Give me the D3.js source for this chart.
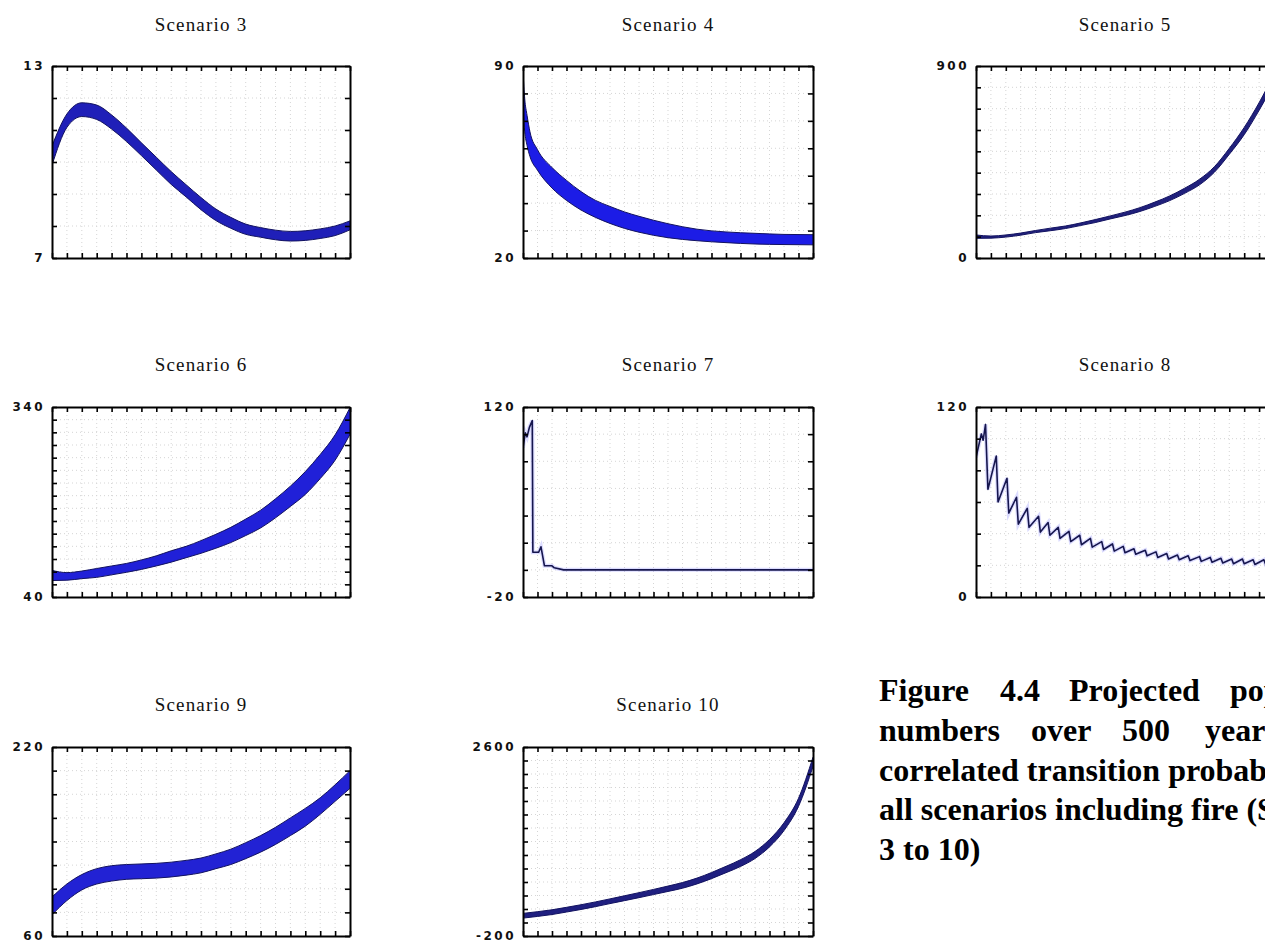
<!DOCTYPE html>
<html>
<head>
<meta charset="utf-8">
<script src="https://cdn.jsdelivr.net/npm/d3@7"></script>
<style>
  body { margin: 0; background: #fff; }
  svg { display: block; }
</style>
</head>
<body>
<svg id="fig" width="1265" height="948"></svg>
<script>
// ---- Data: projected numbers over 500 years, one small set per scenario ----
const scenarioTitles = ["Scenario 3", "Scenario 4", "Scenario 5", "Scenario 6",
                        "Scenario 7", "Scenario 8", "Scenario 9", "Scenario 10"];
const yMins  = [7, 20, 0, 40, -20, 0, 60, -200];
const yMaxs  = [13, 90, 900, 340, 120, 120, 220, 2600];
const ySteps = [1, 10, 100, 20, 20, 20, 20, 200];
const xTickYears = [0, 25, 50, 75, 100, 125, 150, 175, 200, 225, 250,
                    275, 300, 325, 350, 375, 400, 425, 450, 475, 500];

// sampling years shared by most envelope series
const years = [0, 25, 50, 75, 100, 125, 150, 175, 200, 225, 250,
               275, 300, 325, 350, 375, 400, 425, 450, 475, 500];

// Scenario 3: upper / lower edge of the oscillating band
const s3Upper = [10.5, 11.5, 11.85, 11.78, 11.47, 11.06, 10.6, 10.15, 9.7, 9.29, 8.89,
                 8.53, 8.27, 8.06, 7.95, 7.87, 7.83, 7.85, 7.91, 8.0, 8.16];
const s3Lower = [9.9, 11.08, 11.42, 11.33, 11.03, 10.64, 10.2, 9.75, 9.3, 8.91, 8.51,
                 8.17, 7.93, 7.74, 7.65, 7.57, 7.53, 7.55, 7.61, 7.7, 7.88];

// Scenario 4 (finer sampling at the start where it falls quickly)
const s4Years = [0, 3, 7, 12, 25, 50, 75, 100, 125, 150, 175, 200, 250, 300, 350, 400, 450, 500];
const s4Upper = [88, 78, 72, 66, 59.5, 53, 48.3, 44.2, 41, 38.8, 36.8, 35.2, 32.5, 30.5, 29.5, 29, 28.6, 28.5];
const s4Lower = [74, 66, 61, 57, 52, 45.5, 41, 37.5, 34.8, 32.6, 30.8, 29.4, 27.4, 26.3, 25.6, 25.1, 24.9, 24.8];

// Scenario 5
const s5Upper = [108, 103, 108, 117, 129, 140, 150, 164, 180, 197, 215,
                 236, 262, 291, 327, 369, 428, 514, 612, 728, 862];
const s5Lower = [92, 93, 98, 107, 119, 128, 138, 152, 166, 183, 199,
                 218, 242, 269, 303, 343, 402, 486, 578, 692, 818];

// Scenario 6
const s6Upper = [82, 78.5, 81, 85, 89, 93, 98.5, 105, 113, 120, 129,
                 139, 150, 163, 177, 195, 215, 238, 265, 296, 339];
const s6Lower = [66, 66.5, 69, 71, 75, 79, 83.5, 89, 95, 102, 109,
                 117, 126, 137, 149, 165, 183, 202, 227, 256, 297];

// Scenario 7: single trajectory, collapses after the first fire
const s7Years  = [0, 4, 7, 11, 16, 17, 27, 31, 37, 50, 54, 70, 500];
const s7Values = [90, 101, 98, 105, 110, 13, 13, 17, 3, 3, 1.5, 0, 0];

// Scenario 8: saw-tooth trajectory (growth, then sharp drop at each fire)
const s8Years  = [0, 9, 12, 16, 20, 34, 37, 52, 55, 68, 71, 86, 89, 105, 108, 121, 124,
                  138, 141, 156, 159, 174, 177, 192, 195, 211, 214, 229, 232, 247, 250,
                  265, 268, 284, 287, 302, 305, 320, 323, 338, 341, 356, 359, 375, 378,
                  393, 396, 411, 414, 429, 432, 447, 450, 465, 468, 483, 486, 500];
const s8Values = [88, 103, 99, 109, 68, 89, 60, 75, 53, 63, 46, 56, 44, 51, 41, 47, 39,
                  44, 37, 41.5, 35, 39, 33, 37, 31.5, 35, 30, 33.5, 29, 32, 28,
                  30.5, 27, 29.5, 26, 28.5, 25, 27.5, 24, 26.5, 23.5, 26, 23, 25.5, 22.5,
                  25, 22, 24.5, 21.5, 24, 21, 24, 21, 23.5, 20.5, 23.5, 20.5, 23];

// Scenario 9
const s9Upper = [93, 104, 112, 117, 119.5, 120.5, 121, 121.5, 122.5, 124, 126,
                 129.5, 133.5, 139, 145, 152, 160, 168, 177, 188, 200];
const s9Lower = [78, 90, 99, 104, 106.5, 108, 108.5, 109, 110, 111.5, 113.5,
                 117, 120.5, 125.5, 131, 137.5, 145, 153, 163, 174, 185];

// Scenario 10
const s10Upper = [135, 160, 188, 225, 263, 305, 350, 396, 442, 490, 540,
                  592, 658, 740, 832, 930, 1052, 1230, 1478, 1840, 2450];
const s10Lower = [65, 90, 118, 155, 193, 235, 280, 324, 368, 414, 460,
                  508, 572, 650, 738, 830, 948, 1120, 1362, 1720, 2310];

// Figure caption, word by word (justified lines)
const captionLines = [
  ["Figure", "4.4", "Projected", "population"],
  ["numbers", "over", "500", "years", "with"],
  ["correlated transition probabilities for"],
  ["all scenarios including fire (Scenarios"],
  ["3 to 10)"]
];

// ---- Series table built from the arrays above ----
const series = [
  { kind: "band", x: years,   hi: s3Upper,  lo: s3Lower },
  { kind: "band", x: s4Years, hi: s4Upper,  lo: s4Lower },
  { kind: "thin", x: years,   hi: s5Upper,  lo: s5Lower },
  { kind: "band", x: years,   hi: s6Upper,  lo: s6Lower },
  { kind: "line", x: s7Years, v: s7Values },
  { kind: "line", x: s8Years, v: s8Values },
  { kind: "band", x: years,   hi: s9Upper,  lo: s9Lower },
  { kind: "thin", x: years,   hi: s10Upper, lo: s10Lower }
];

// ---- Layout and styles ----
const colLeft   = [52, 523, 976];
const colRight  = [350, 813, 1274];
const rowTop    = [66, 407, 747];
const rowBottom = [258, 597, 936];
const titleBase = [31, 371, 711];
const bandFill  = ["#1f1fb8", "#1c1ce6", "#20207c", "#2020d8", null, null, "#2222d4", "#1f1f80"];

const svg = d3.select("#fig");
svg.append("rect").attr("width", 1265).attr("height", 948).attr("fill", "#fff");

scenarioTitles.forEach((title, i) => {
  const row = Math.floor(i / 3), col = i % 3;
  const L = colLeft[col], R = colRight[col], T = rowTop[row], B = rowBottom[row];
  const x = d3.scaleLinear().domain([0, 500]).range([L, R]);
  const y = d3.scaleLinear().domain([yMins[i], yMaxs[i]]).range([B, T]);
  const yTicks = d3.range(yMins[i], yMaxs[i] + ySteps[i] / 2, ySteps[i]);

  const g = svg.append("g");

  // dotted background grid
  const grid = g.append("g").attr("stroke", "#b4b4b4").attr("stroke-width", 1)
    .attr("stroke-dasharray", "1 3").attr("opacity", 0.55);
  grid.selectAll("line.v").data(xTickYears.slice(1, -1)).join("line")
    .attr("x1", d => x(d)).attr("x2", d => x(d)).attr("y1", T).attr("y2", B);
  grid.selectAll("line.h").data(yTicks.slice(1, -1)).join("line")
    .attr("x1", L).attr("x2", R).attr("y1", d => y(d)).attr("y2", d => y(d));

  // clip region for the data
  const clipId = "clip" + i;
  g.append("clipPath").attr("id", clipId).append("rect")
    .attr("x", L).attr("y", T).attr("width", R - L).attr("height", B - T);
  const plot = g.append("g").attr("clip-path", `url(#${clipId})`);

  const s = series[i];
  if (s.kind === "band" || s.kind === "thin") {
    const pts = s.x.map((yr, k) => ({ yr, hi: s.hi[k], lo: s.lo[k] }));
    const area = d3.area().curve(d3.curveMonotoneX)
      .x(d => x(d.yr)).y0(d => y(d.lo)).y1(d => y(d.hi));
    plot.append("path").datum(pts).attr("d", area).attr("fill", bandFill[i]);
    const edge = acc => d3.line().curve(d3.curveMonotoneX).x(d => x(d.yr)).y(d => y(acc(d)));
    [d => d.hi, d => d.lo].forEach(acc => {
      plot.append("path").attr("d", edge(acc)(pts))
        .attr("fill", "none").attr("stroke", "#121260").attr("stroke-width", 1);
    });
  } else {
    const pts = s.x.map((yr, k) => ({ yr, v: s.v[k] }));
    const line = d3.line().x(d => x(d.yr)).y(d => y(d.v));
    plot.append("path").datum(pts).attr("d", line).attr("fill", "none")
      .attr("stroke", "#8c8cff").attr("stroke-width", 4).attr("opacity", 0.3);
    plot.append("path").datum(pts).attr("d", line).attr("fill", "none")
      .attr("stroke", "#16164e").attr("stroke-width", 1.6).attr("stroke-linejoin", "round");
  }

  // inward ticks on all four sides
  const tick = 5;
  const axes = [
    g.append("g").attr("transform", `translate(0,${B})`)
      .call(d3.axisBottom(x).tickValues(xTickYears).tickSize(-tick).tickSizeOuter(0).tickFormat("")),
    g.append("g").attr("transform", `translate(0,${T})`)
      .call(d3.axisTop(x).tickValues(xTickYears).tickSize(-tick).tickSizeOuter(0).tickFormat("")),
    g.append("g").attr("transform", `translate(${L},0)`)
      .call(d3.axisLeft(y).tickValues(yTicks).tickSize(-tick).tickSizeOuter(0).tickFormat("")),
    g.append("g").attr("transform", `translate(${R},0)`)
      .call(d3.axisRight(y).tickValues(yTicks).tickSize(-tick).tickSizeOuter(0).tickFormat(""))
  ];
  axes.forEach(a => {
    a.select(".domain").attr("stroke", "#000").attr("stroke-width", 2);
    a.selectAll(".tick line").attr("stroke", "#000").attr("stroke-width", 1.6);
  });

  // min / max labels on the left
  [yMaxs[i], yMins[i]].forEach(v => {
    g.append("text").attr("x", L - 7).attr("y", y(v)).attr("dy", "0.36em")
      .attr("text-anchor", "end")
      .attr("font-family", "DejaVu Sans, sans-serif").attr("font-weight", "bold")
      .attr("font-size", 12).attr("letter-spacing", "2.5px").attr("fill", "#111")
      .text(v);
  });

  // panel title
  g.append("text").attr("x", (L + R) / 2).attr("y", titleBase[row])
    .attr("text-anchor", "middle")
    .attr("font-family", "Liberation Serif, Times New Roman, serif")
    .attr("font-size", 19).attr("letter-spacing", "1.2px").attr("fill", "#111")
    .text(title);
});

// ---- Caption ----
const capX = 879;
const capBaselines = [701, 741, 781, 820, 860];
const lineWordX = [
  [879, 1000, 1069, 1230],
  [879, 1031, 1122, 1205, 1310]
];
const cap = svg.append("g")
  .attr("font-family", "Liberation Serif, Times New Roman, serif")
  .attr("font-weight", "bold").attr("font-size", 32).attr("fill", "#000");
captionLines.forEach((words, li) => {
  words.forEach((w, wi) => {
    const xPos = li < lineWordX.length ? lineWordX[li][wi] : capX;
    cap.append("text").attr("x", xPos).attr("y", capBaselines[li]).text(w);
  });
});
</script>
</body>
</html>
